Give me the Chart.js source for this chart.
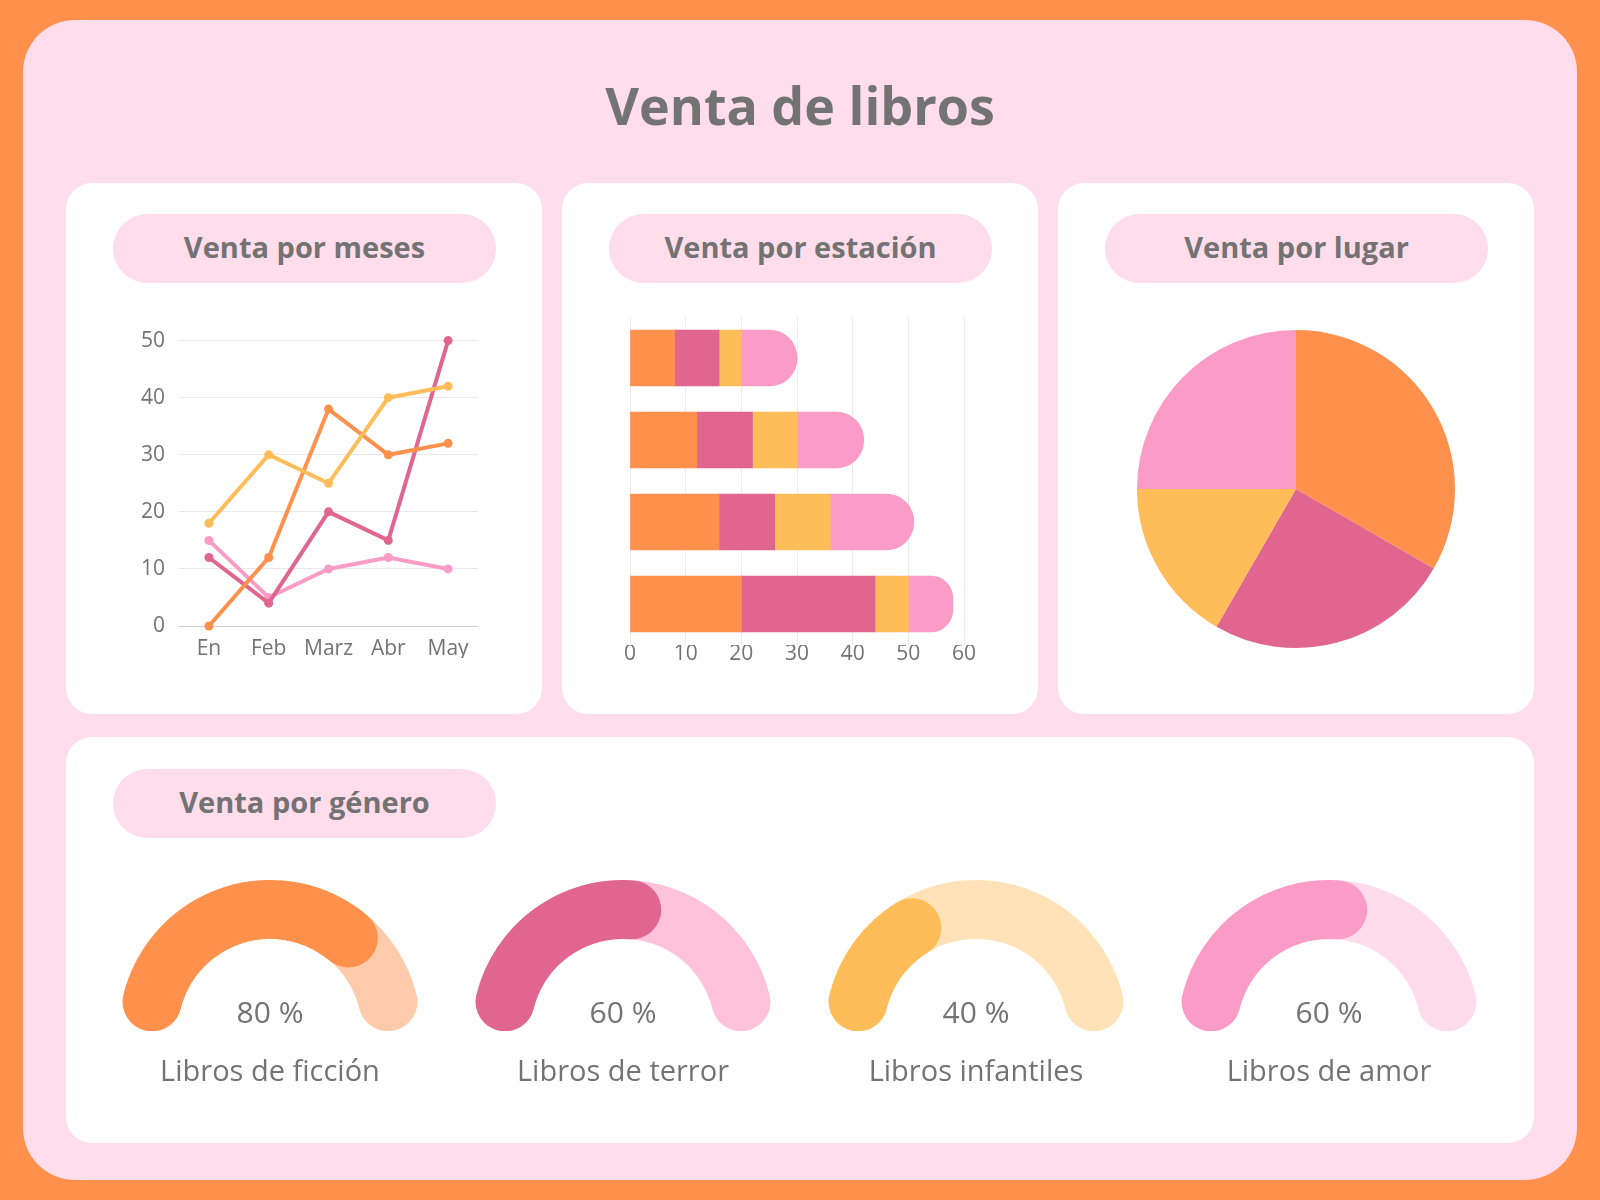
<!DOCTYPE html>
<html lang="es">
<head>
<meta charset="utf-8">
<title>Venta de libros</title>
<script src="https://cdn.jsdelivr.net/npm/chart.js@4.4.1/dist/chart.umd.min.js"></script>
<style>
  body { margin: 0; width: 1600px; height: 1200px; background: #FF914D; position: relative; overflow: hidden; font-family: 'Open Sans', sans-serif; color: #737373; }
  .frame { position: absolute; left: 23px; top: 20px; width: 1554px; height: 1160px; border-radius: 52px; background: #FFDDEB; }
  .title { position: absolute; left: 0; width: 1600px; top: 70px; text-align: center; font-size: 52px; font-weight: 700; line-height: 70px; }
  .panel { position: absolute; background: #fff; border-radius: 26px; }
  .pill { position: absolute; width: 383px; height: 69px; border-radius: 35px; background: #FFDDEB; text-align: center; font-size: 29px; font-weight: 700; line-height: 66px; }
  .box { position: absolute; }
  .pct { position: absolute; width: 300px; text-align: center; font-size: 30px; line-height: 40px; }
  .gen { position: absolute; width: 340px; text-align: center; font-size: 29px; line-height: 40px; }
</style>
</head>
<body>
<div class="frame"></div>
<div class="title">Venta de libros</div>

<div class="panel" style="left:66px;top:183px;width:476px;height:531px"></div>
<div class="panel" style="left:562px;top:183px;width:476px;height:531px"></div>
<div class="panel" style="left:1058px;top:183px;width:476px;height:531px"></div>
<div class="panel" style="left:66px;top:737px;width:1468px;height:406px"></div>

<div class="pill" style="left:113px;top:214px">Venta por meses</div>
<div class="pill" style="left:609px;top:214px">Venta por estación</div>
<div class="pill" style="left:1105px;top:214px">Venta por lugar</div>
<div class="pill" style="left:113px;top:769px">Venta por género</div>

<div class="box" style="left:130px;top:314px;width:360px;height:356px"><canvas id="lineChart"></canvas></div>
<div class="box" style="left:610px;top:310px;width:375px;height:363px"><canvas id="barChart"></canvas></div>
<div class="box" style="left:1131px;top:324px;width:330px;height:330px"><canvas id="pieChart"></canvas></div>
<div id="gauges"></div>

<script>
// colores
let naranja = '#FF914D'
let rosa = '#E0668F'
let amarillo = '#FFBD59'
let rosaClaro = '#FA9CC7'

// venta por meses
let meses = ['En', 'Feb', 'Marz', 'Abr', 'May']
let mesesNaranja = [0, 12, 38, 30, 32]
let mesesAmarillo = [18, 30, 25, 40, 42]
let mesesRosa = [12, 4, 20, 15, 50]
let mesesRosaClaro = [15, 5, 10, 12, 10]

// venta por estación (barras apiladas)
let estaciones = ['Primavera', 'Verano', 'Otoño', 'Invierno']
let estacionNaranja = [8, 12, 16, 20]
let estacionRosa = [8, 10, 10, 24]
let estacionAmarillo = [4, 8, 10, 6]
let estacionRosaClaro = [10, 12, 15, 8]

// venta por lugar
let lugares = ['Librería', 'Online', 'Ferias', 'Supermercados']
let ventaLugar = [40, 30, 20, 30]

// venta por género
let generos = ['Libros de ficción', 'Libros de terror', 'Libros infantiles', 'Libros de amor']
let porcentajes = [80, 60, 40, 60]
let coloresGenero = [naranja, rosa, amarillo, rosaClaro]
let fondosGenero = ['#FFCBAA', '#FFC2D9', '#FFE2B8', '#FFDCEB']
let centrosGenero = [270, 623, 976, 1329]

Chart.defaults.font.family = "'Open Sans', sans-serif"
Chart.defaults.color = '#737373'
Chart.defaults.animation = false
Chart.defaults.plugins.legend.display = false
Chart.defaults.plugins.tooltip.enabled = false

function lineSet(data, color) {
    return {
        data: data,
        borderColor: color,
        backgroundColor: color,
        borderWidth: 4,
        pointRadius: 4.5,
        pointBorderWidth: 0,
        tension: 0,
        clip: false
    }
}

new Chart(document.getElementById('lineChart'), {
    type: 'line',
    data: {
        labels: meses,
        datasets: [
            lineSet(mesesAmarillo, amarillo),
            lineSet(mesesNaranja, naranja),
            lineSet(mesesRosa, rosa),
            lineSet(mesesRosaClaro, rosaClaro)
        ]
    },
    options: {
        responsive: true,
        maintainAspectRatio: false,
        layout: { padding: { left: 0, right: 12, top: 9, bottom: 12 } },
        scales: {
            x: {
                offset: true,
                grid: { display: false },
                border: { display: false },
                ticks: { font: { size: 21 }, padding: 2 },
                afterFit: (s) => { s.height = 32 }
            },
            y: {
                min: 0,
                max: 50,
                ticks: { stepSize: 10, font: { size: 21 }, padding: 14 },
                border: { display: false },
                grid: {
                    drawTicks: false,
                    color: (c) => c.tick && c.tick.value === 0 ? '#cfcfcf' : '#e9e9e9'
                },
                afterFit: (s) => { s.width = 49 }
            }
        }
    }
})

function barSet(data, color, last) {
    return {
        data: data,
        backgroundColor: color,
        borderWidth: 0,
        borderRadius: last ? 40 : 0,
        barThickness: 56
    }
}

new Chart(document.getElementById('barChart'), {
    type: 'bar',
    data: {
        labels: estaciones,
        datasets: [
            barSet(estacionNaranja, naranja),
            barSet(estacionRosa, rosa),
            barSet(estacionAmarillo, amarillo),
            barSet(estacionRosaClaro, rosaClaro, true)
        ]
    },
    options: {
        indexAxis: 'y',
        responsive: true,
        maintainAspectRatio: false,
        layout: { padding: { left: 20, right: 21, top: 7, bottom: 0 } },
        scales: {
            x: {
                stacked: true,
                min: 0,
                max: 60,
                ticks: { stepSize: 10, font: { size: 21 }, padding: -4 },
                border: { display: false },
                grid: { color: '#ececec', drawTicks: false },
                afterFit: (s) => { s.height = 28 }
            },
            y: {
                stacked: true,
                display: false
            }
        }
    }
})

new Chart(document.getElementById('pieChart'), {
    type: 'pie',
    data: {
        labels: lugares,
        datasets: [{
            data: ventaLugar,
            backgroundColor: [naranja, rosa, amarillo, rosaClaro],
            borderWidth: 0
        }]
    },
    options: {
        responsive: true,
        maintainAspectRatio: false,
        layout: { padding: 6 }
    }
})

// medidores semicirculares: fondo + valor superpuestos
let gauges = document.getElementById('gauges')
generos.forEach((g, i) => {
    let cx = centrosGenero[i]
    let html = `
        <div class="box" style="left:${cx - 151}px;top:880px;width:302px;height:151px"><canvas id="fondo${i}"></canvas></div>
        <div class="box" style="left:${cx - 151}px;top:880px;width:302px;height:151px"><canvas id="valor${i}"></canvas></div>
        <div class="pct" style="left:${cx - 150}px;top:992px">${porcentajes[i]} %</div>
        <div class="gen" style="left:${cx - 170}px;top:1050px">${g}</div>`
    gauges.insertAdjacentHTML('beforeend', html)
})

generos.forEach((g, i) => {
    let base = {
        type: 'doughnut',
        options: {
            responsive: true,
            maintainAspectRatio: false,
            rotation: -90,
            circumference: 180,
            cutout: '61%',
            layout: { padding: 0 }
        }
    }
    new Chart(document.getElementById(`fondo${i}`), Object.assign({}, base, {
        data: { labels: [g], datasets: [{ data: [100], backgroundColor: [fondosGenero[i]], borderWidth: 0, borderRadius: 30 }] }
    }))
    new Chart(document.getElementById(`valor${i}`), Object.assign({}, base, {
        data: {
            labels: [g, ''],
            datasets: [{
                data: [porcentajes[i], 100 - porcentajes[i]],
                backgroundColor: [coloresGenero[i], 'rgba(0,0,0,0)'],
                borderWidth: 0,
                borderRadius: 30
            }]
        }
    }))
})
</script>
</body>
</html>
